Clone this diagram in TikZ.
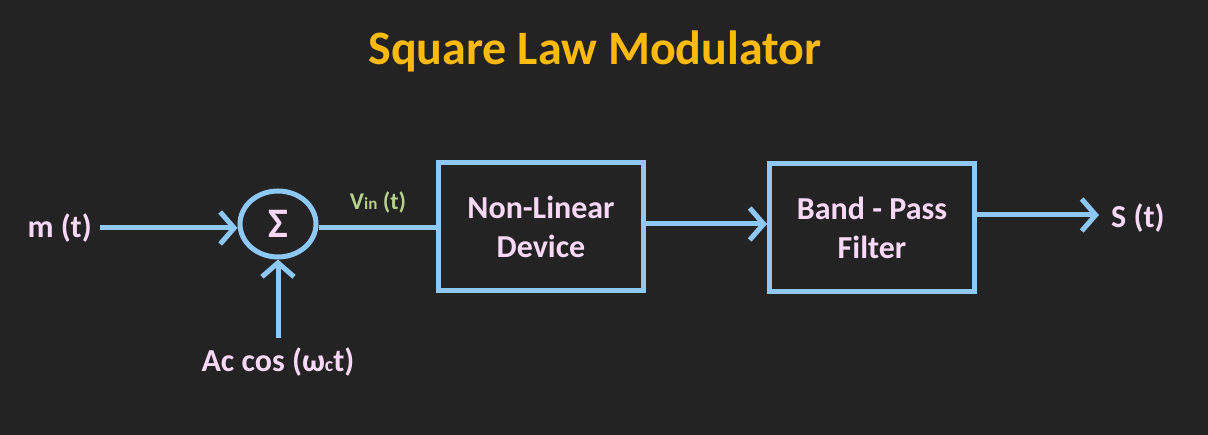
\documentclass[tikz,border=0pt]{standalone}
\usepackage{fontspec}
\setmainfont{Carlito}
\usetikzlibrary{arrows.meta,shapes.geometric}
\definecolor{bg}{HTML}{232323}
\definecolor{wire}{HTML}{8EC8F5}
\definecolor{ttl}{HTML}{FBBA0C}
\definecolor{lbl}{HTML}{F8D8F6}
\definecolor{grn}{HTML}{B6D08C}
\tikzset{
  wirestyle/.style={draw=wire,line width=5pt},
  arr/.style={wirestyle,-{Straight Barb[length=14pt,width=32pt,line width=5pt]}},
  blockbox/.style={draw=wire,line width=5pt,minimum width=205pt,minimum height=128pt,
     align=center,text=lbl,font=\bfseries\fontsize{32}{39}\selectfont,inner sep=0pt},
  sumnode/.style={ellipse,draw=wire,line width=5pt,minimum width=76pt,minimum height=66pt,
     text=lbl,font=\bfseries\fontsize{42}{44}\selectfont,inner sep=0pt},
  lab/.style={text=lbl,font=\bfseries\fontsize{32}{34}\selectfont,inner sep=0pt},
}
\begin{document}
\begin{tikzpicture}[x=1pt,y=-1pt]
\fill[bg] (0,0) rectangle (1208,435);
\useasboundingbox (0,0) rectangle (1208,435);
\node[text=ttl,font=\bfseries\fontsize{48}{52}\selectfont] (title) at (595,51) {Square Law Modulator};
\node[lab,anchor=east] (m) at (92,228) {m (t)};
\node[sumnode] (s) at (278,224) {Σ};
\node[lab] (ac) at (278,362) {Ac cos (ω{\fontsize{20}{20}\selectfont c}t)};
\coordinate (acTop) at (278,338);
\node[text=grn,font=\bfseries\fontsize{24}{26}\selectfont] (vin) at (378,202) {V{\fontsize{17}{17}\selectfont in} (t)};
\node[blockbox] (b1) at (541,226.5) {Non-Linear\\Device};
\node[blockbox] (b2) at (872,227.5) {Band - Pass\\Filter};
\node[lab,anchor=west] (st) at (1111,218) {S (t)};
\coordinate (stEnd) at (1099,215);
\coordinate (mStart) at (100,228);
\draw[arr] (mStart) -- (s.west |- mStart);
\draw[arr] (acTop) -- (s.south);
\draw[wirestyle] (s.east |- 0,228) -- (b1.west |- 0,228);
\draw[arr] (b1.east |- 0,224) -- (b2.west |- 0,224);
\draw[arr] (b2.east |- stEnd) -- (stEnd);
\end{tikzpicture}
\end{document}
